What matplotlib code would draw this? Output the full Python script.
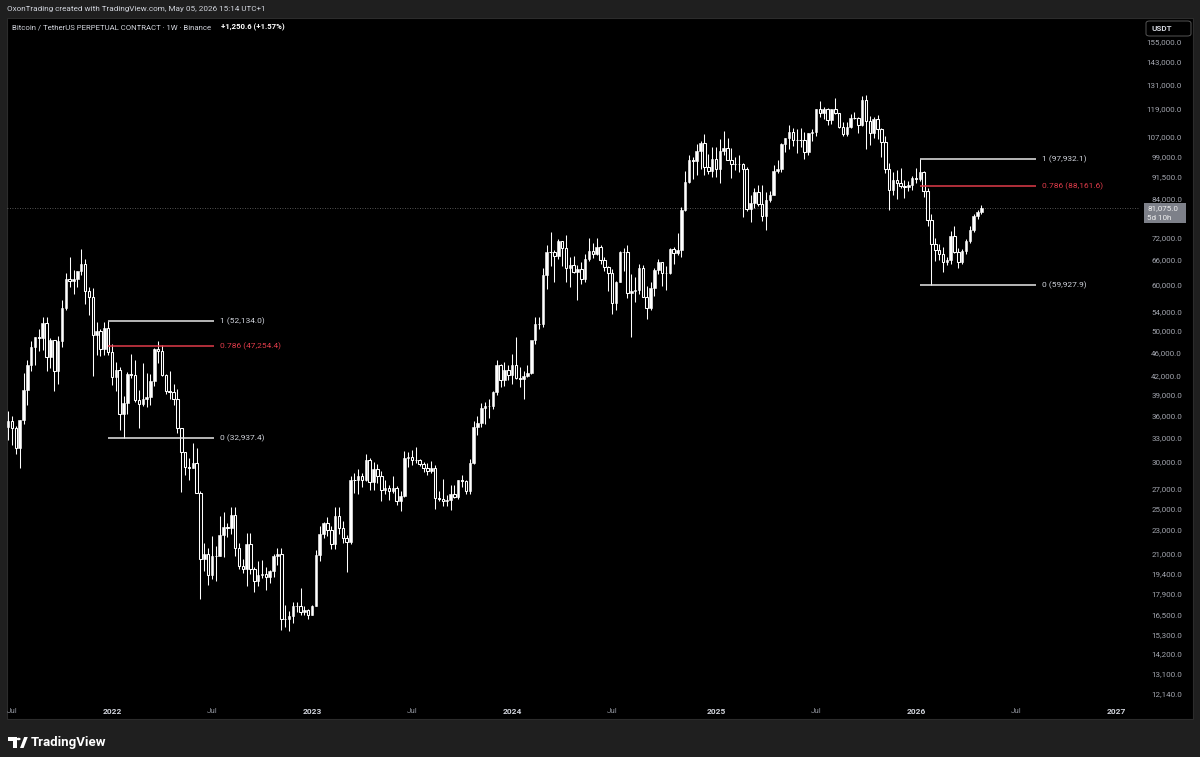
import matplotlib
matplotlib.use("Agg")
import matplotlib.pyplot as plt
import matplotlib.dates as mdates
import matplotlib.transforms as mtransforms
from matplotlib.patches import Rectangle, FancyBboxPatch, Polygon, Circle
import numpy as np
import pandas as pd

plt.rcParams['font.family'] = ['Roboto', 'DejaVu Sans']

#### weekly candles (open, high, low, close)

bars_2021 = [
    (34500, 36600, 32700, 35300), (35300, 35900, 32100, 34250), (34250, 34600, 31000, 31780),
    (31780, 35400, 29300, 35400), (35400, 42600, 34800, 39850), (39850, 44800, 37500, 43800),
    (43800, 48150, 42800, 47000), (47000, 49000, 43900, 48900), (48900, 50500, 46300, 48800),
    (48800, 52900, 46500, 51800), (51800, 52900, 42800, 45200), (45200, 48800, 43300, 48300),
    (48300, 48400, 39600, 42800), (42800, 49200, 40750, 48200), (48200, 56500, 47100, 54900),
    (54900, 62900, 54400, 61500), (61500, 67000, 59600, 60900), (60900, 63700, 57800, 61300),
    (61300, 63300, 59400, 63250), (63250, 69000, 62300, 65000), (65000, 66300, 55600, 58600),
    (58600, 59400, 53300, 57200), (57200, 59200, 42000, 49400), (49400, 51900, 45700, 50100),
    (50100, 50500, 45500, 46700), (46700, 52000, 45600, 50800), (50800, 52134, 45700, 46200),
]

bars_2022 = [
    (46200, 47600, 40600, 41850), (41850, 44400, 39600, 43100), (43100, 43500, 34000, 36250),
    (36250, 38950, 32937, 37900), (37900, 42650, 36250, 42400), (42400, 45850, 41700, 42200),
    (42200, 44800, 38000, 38350), (38350, 39800, 34350, 37700), (37700, 44200, 37400, 38400),
    (38400, 42600, 37200, 38800), (38800, 42400, 37600, 41300), (41300, 46900, 40500, 46800),
    (46800, 48200, 44200, 46400), (46400, 47400, 42100, 42200), (42200, 42400, 39200, 39700),
    (39700, 42900, 38500, 39500), (39500, 40800, 37600, 38500), (38500, 40000, 33700, 34300),
    (34300, 34300, 26700, 31300), (31300, 31300, 28600, 29450), (29450, 30500, 28000, 29400),
    (29400, 32400, 29300, 29900), (29900, 31700, 26600, 26600), (26600, 26800, 17600, 20550),
    (20550, 21900, 19600, 21000), (21000, 21500, 18600, 19300), (19300, 22500, 19000, 20850),
    (20850, 21600, 18900, 20800), (20800, 24300, 20800, 22600), (22600, 24700, 20700, 23300),
    (23300, 23700, 22400, 23200), (23200, 25200, 22700, 24400), (24400, 25200, 20800, 21500),
    (21500, 21900, 19800, 20000), (20000, 20600, 19500, 19800), (19800, 22800, 18500, 21800),
    (21800, 22800, 19400, 19800), (19800, 19950, 18100, 18900), (18900, 20400, 18500, 19300),
    (19300, 20500, 19100, 19400), (19400, 19900, 18200, 19200), (19200, 19700, 18700, 19600),
    (19600, 21000, 19200, 20800), (20800, 21500, 20100, 21000), (21000, 21500, 15600, 16300),
    (16300, 17200, 15800, 16250), (16250, 16800, 15500, 16450), (16450, 17400, 16000, 17100),
    (17100, 17400, 16700, 17150), (17150, 18400, 16500, 16750), (16750, 17100, 16500, 16850),
    (16850, 16950, 16300, 16550),
]

bars_2023 = [
    (16550, 17200, 16500, 17150), (17150, 21300, 17150, 20900), (20900, 23400, 20400, 22700),
    (22700, 23800, 22300, 23700), (23700, 24250, 22500, 23000), (23000, 23400, 21400, 21800),
    (21800, 25200, 21400, 24300), (24300, 25250, 22700, 23200), (23200, 23900, 21900, 22350),
    (22350, 22600, 19550, 22000), (22000, 28400, 21800, 28000), (28000, 28800, 26600, 27950),
    (27950, 29200, 26500, 28450), (28450, 28800, 27200, 27950), (27950, 31000, 27900, 30300),
    (30300, 30500, 26900, 27800), (27800, 30000, 26900, 29250), (29250, 29800, 27700, 28450),
    (28450, 29000, 25800, 26900), (26900, 28000, 26500, 27100), (27100, 27500, 25900, 26800),
    (26800, 28400, 26600, 27100), (27100, 27400, 25400, 25800), (25800, 26800, 24800, 26350),
    (26350, 31400, 26250, 30500), (30500, 31300, 29500, 30600), (30600, 31500, 29700, 30300),
    (30300, 31800, 29900, 30250), (30250, 30400, 29600, 29850), (29850, 30000, 28900, 29300),
    (29300, 29950, 28600, 29050), (29050, 30200, 28800, 29400), (29400, 29700, 25000, 26100),
    (26100, 26800, 25800, 26050), (26050, 28150, 25300, 25800), (25800, 26400, 25300, 25850),
    (25850, 27500, 24900, 26550), (26550, 27450, 26100, 26250), (26250, 28050, 26000, 27950),
    (27950, 28600, 27200, 27900), (27900, 28000, 26500, 26850), (26850, 30400, 26550, 29950),
    (29950, 35200, 29800, 34500), (34500, 35900, 33400, 35000), (35000, 37900, 34500, 37050),
    (37050, 38000, 34800, 37400), (37400, 38400, 35700, 37450), (37450, 39700, 36900, 39450),
    (39450, 44700, 39000, 43800), (43800, 44000, 40200, 41400), (41400, 44400, 40500, 43050),
    (43050, 43800, 41400, 42250),
]

bars_2024 = [
    (42250, 45900, 40700, 43950), (43950, 49000, 41500, 41750), (41750, 43600, 40300, 41600),
    (41600, 42800, 38500, 42050), (42050, 43900, 41900, 42600), (42600, 48200, 42300, 48300),
    (48300, 52900, 47700, 51600), (51600, 52900, 50500, 51450), (51450, 64000, 50900, 62400),
    (62400, 70100, 59000, 68300), (68300, 73800, 64500, 68200), (68200, 68900, 60700, 67200),
    (67200, 71800, 66500, 71300), (71300, 71300, 64500, 69400), (69400, 72800, 60700, 64000),
    (64000, 66900, 59600, 64950), (64950, 67200, 62800, 63100), (63100, 64800, 56500, 63900),
    (63900, 65500, 60200, 61500), (61500, 67700, 60700, 66300), (66300, 72000, 66000, 68500),
    (68500, 70600, 66600, 67800), (67800, 72000, 67500, 69600), (69600, 70200, 65000, 66200),
    (66200, 67000, 63400, 64300), (64300, 64500, 58500, 62800), (62800, 63800, 53500, 55900),
    (55900, 61000, 54300, 60800), (60800, 68400, 60600, 68200), (68200, 69400, 63400, 68300),
    (68300, 70000, 57000, 58100), (58100, 62700, 49000, 58700), (58700, 62000, 56100, 58900),
    (58900, 65000, 57800, 64200), (64200, 64900, 57200, 57300), (57300, 59800, 52500, 54800),
    (54800, 60600, 54500, 59200), (59200, 64100, 57500, 63600), (63600, 66500, 62600, 65600),
    (65600, 65600, 59800, 62800), (62800, 64500, 58900, 62900), (62900, 69400, 62600, 69000),
    (69000, 69500, 65000, 68000), (68000, 73600, 67500, 68700), (68700, 81500, 66800, 80400),
    (80400, 93500, 80200, 89800), (89800, 99600, 89300, 97800), (97800, 98700, 90800, 97200),
    (97200, 104000, 92000, 101100), (101100, 105200, 94200, 104400), (104400, 108300, 92200, 95200),
    (95200, 99900, 92500, 93700), (93700, 102700, 91300, 98300),
]

bars_2025 = [
    (98300, 102700, 91300, 94500), (94500, 106000, 89200, 101300), (101300, 109600, 99500, 102600),
    (102600, 106400, 97800, 97700), (97700, 102500, 91200, 96400), (96400, 98800, 94000, 96100),
    (96100, 99500, 93400, 96250), (96250, 96500, 78200, 94300), (94300, 95000, 80000, 80700),
    (80700, 85300, 76600, 82600), (82600, 87500, 81100, 86100), (86100, 88800, 81600, 82400),
    (82400, 88500, 77100, 78400), (78400, 86100, 74400, 83700), (83700, 86500, 83000, 85200),
    (85200, 95800, 85100, 93800), (93800, 97900, 92800, 94300), (94300, 104300, 93400, 104200),
    (104200, 106700, 100700, 106400), (106400, 112000, 102000, 109000), (109000, 110700, 103100, 105700),
    (105700, 110400, 100400, 105600), (105600, 110600, 102700, 105500), (105500, 108900, 98200, 100900),
    (100900, 108500, 99600, 108400), (108400, 110500, 105100, 109200), (109200, 119500, 107500, 119100),
    (119100, 123200, 115700, 117300), (117300, 120200, 114700, 119400), (119400, 119800, 112000, 114200),
    (114200, 119300, 112600, 119300), (119300, 124500, 116800, 117400), (117400, 117600, 110600, 111000),
    (111000, 113300, 107300, 108200), (108200, 113400, 107300, 111100), (111100, 116800, 110600, 115300),
    (115300, 117900, 114600, 115200), (115200, 115400, 108600, 112200), (112200, 125700, 111600, 123500),
    (123500, 126200, 102000, 114000), (114000, 116000, 103500, 108700), (108700, 115500, 106600, 114500),
    (114500, 116400, 106300, 110500), (110500, 110800, 98900, 104700), (104700, 107500, 93000, 94500),
    (94500, 96600, 80500, 86800), (86800, 93100, 85300, 90400), (90400, 94100, 83800, 89300),
    (89300, 94600, 87600, 88200), (88200, 90400, 84400, 87900), (87900, 90000, 86500, 88600),
    (88600, 91900, 86800, 91000),
]

bars_2026 = [
    (91000, 94800, 89300, 90600), (90600, 97932, 90000, 93100), (93100, 93600, 84600, 86500),
    (86500, 87500, 75500, 77200), (77200, 79000, 59928, 70500), (70500, 72200, 65800, 68900),
    (68900, 70400, 66200, 67700), (67700, 69500, 63200, 65700), (65700, 67000, 64900, 66100),
    (66100, 74000, 65200, 72500), (72500, 75600, 68000, 68300), (68300, 69200, 64200, 65600),
    (65600, 69000, 65000, 68400), (68400, 71800, 67800, 71200), (71200, 75500, 70600, 74500),
    (74500, 79000, 73800, 78600), (78600, 80300, 77500, 79824), (79824, 81900, 79300, 81075),
]

first_week = "2021-06-28"
last_price = 81075.0

price_ticks = [155000, 143000, 131000, 119000, 107000, 99000, 91500, 84000, 72000, 66000,
               60000, 54000, 50000, 46000, 42000, 39000, 36000, 33000, 30000, 27000, 25000,
               23000, 21000, 19400, 17900, 16500, 15300, 14200, 13100, 12140]

time_ticks = ["2021-07-05", "2022-01-03", "2022-07-04", "2023-01-02", "2023-07-03", "2024-01-01",
              "2024-07-01", "2025-01-06", "2025-07-07", "2026-01-05", "2026-07-06", "2027-01-04"]
time_labels = ["Jul", "2022", "Jul", "2023", "Jul", "2024", "Jul", "2025", "Jul", "2026", "Jul", "2027"]

fib_left_levels = [("1", 52134.0), ("0.786", 47254.4), ("0", 32937.4)]
fib_left_span = ("2021-12-27", "2022-07-08")
fib_right_levels = [("1", 97932.1), ("0.786", 88161.6), ("0", 59927.9)]
fib_right_span = ("2026-01-12", "2026-08-11")

#### helpers: pixel positions -> figure fraction
W, H = 1200, 757
def fx(px):
    return px / W
def fy(py):
    return 1 - py / H

BG = '#1f1f1f'
WHITE = '#ffffff'
RED = '#e03c4a'
TXT = '#d1d4dc'
GREY = '#a3a6af'

fig = plt.figure(figsize=(12, 7.57), dpi=100, facecolor=BG)

# black chart pane (behind the axes)
fig.patches.append(Rectangle((fx(7), fy(719)), fx(1193) - fx(7), fy(18) - fy(719),
                             transform=fig.transFigure, facecolor='black',
                             edgecolor='#2c2c2c', lw=0.8, zorder=-5))

ax = fig.add_axes([fx(7), fy(703), fx(1140) - fx(7), fy(18) - fy(703)])
ax.set_zorder(1)
ax.set_facecolor('none')
for s in ax.spines.values():
    s.set_visible(False)
ax.set_yscale('log')
ax.set_ylim(11720, 170200)
ax.minorticks_off()
ax.set_xticks([])
ax.set_yticks([])

# x scale : 3.847 px per week, first 2022 bar at x=112
anchor = mdates.date2num(pd.Timestamp("2022-01-03"))
ppd = 3.847 / 7
ax.set_xlim(anchor - (112 - 7) / ppd, anchor + (1140 - 112) / ppd)

bars = np.array(bars_2021 + bars_2022 + bars_2023 + bars_2024 + bars_2025 + bars_2026, dtype=float)
dates = pd.date_range(first_week, periods=len(bars), freq='7D')
xs = mdates.date2num(dates)
o, h, l, c = bars[:, 0], bars[:, 1], bars[:, 2], bars[:, 3]
up = c >= o
dn = ~up
bw = 4.6  # days

ax.vlines(xs, l, h, color=WHITE, lw=0.75, zorder=2)
ax.bar(xs[up], c[up] - o[up], bottom=o[up], width=bw, color=WHITE, edgecolor=WHITE, lw=0.4, zorder=3)
ax.bar(xs[dn], o[dn] - c[dn], bottom=c[dn], width=bw, facecolor='black', edgecolor=WHITE, lw=0.75, zorder=3)

# current price dotted line
ax.axhline(last_price, color='#707070', lw=0.6, ls=(0, (1, 2)), zorder=1)

# fib drawings
def draw_fib(levels, span):
    x0 = mdates.date2num(pd.Timestamp(span[0]))
    x1 = mdates.date2num(pd.Timestamp(span[1]))
    for name, val in levels:
        col = RED if name == "0.786" else '#e8e8e8'
        tcol = RED if name == "0.786" else TXT
        ax.plot([x0, x1], [val, val], color=col, lw=1.1, zorder=4, solid_capstyle='butt')
        ax.annotate(f"{name} ({val:,.1f})", xy=(x1, val), xytext=(4.5, 0), textcoords='offset points',
                    color=tcol, fontsize=6, va='center', ha='left', zorder=5)

draw_fib(fib_left_levels, fib_left_span)
draw_fib(fib_right_levels, fib_right_span)

# price scale labels
ptrans = mtransforms.blended_transform_factory(fig.transFigure, ax.transData)
for p in price_ticks:
    ax.text(fx(1182), p, f"{p:,.1f}", transform=ptrans, ha='right', va='center',
            color=GREY, fontsize=5.8, clip_on=False)

# time scale labels
ttrans = mtransforms.blended_transform_factory(ax.transData, fig.transFigure)
for d, lab in zip(time_ticks, time_labels):
    xd = mdates.date2num(pd.Timestamp(d))
    if lab == "Jul":
        ax.text(xd, fy(711), lab, transform=ttrans, ha='center', va='center',
                color='#8f929b', fontsize=5.8, clip_on=False)
    else:
        ax.text(xd, fy(711), lab, transform=ttrans, ha='center', va='center',
                color=TXT, fontsize=6, fontweight='bold', clip_on=False)

# last price tag
fig.patches.append(Rectangle((fx(1144), fy(223)), fx(1186) - fx(1144), fy(203) - fy(223),
                             transform=fig.transFigure, facecolor='#7d8089', edgecolor='none', zorder=5))
fig.text(fx(1147), fy(208.5), f"{last_price:,.1f}", color='#f0f0f0', fontsize=5.8, va='center', ha='left', zorder=6)
fig.text(fx(1147), fy(217.5), "5d 10h", color='#f0f0f0', fontsize=5.8, va='center', ha='left', zorder=6)

# currency box
fig.patches.append(FancyBboxPatch((fx(1146), fy(36)), fx(1191) - fx(1146), fy(21) - fy(36),
                                  boxstyle='round,pad=0,rounding_size=0.003',
                                  transform=fig.transFigure, facecolor='none',
                                  edgecolor='#555555', lw=0.7, zorder=5))
fig.text(fx(1151), fy(28.5), "USDT", color=TXT, fontsize=5.8, va='center', ha='left', fontweight='bold')

# header texts
fig.text(fx(7), fy(9.5), "OxonTrading created with TradingView.com, May 05, 2026 15:14 UTC+1",
         color=TXT, fontsize=5.9, va='center', ha='left')
fig.text(fx(12), fy(27), "Bitcoin / TetherUS PERPETUAL CONTRACT · 1W · Binance",
         color=TXT, fontsize=5.6, va='center', ha='left')
fig.text(fx(221), fy(27), "+1,250.6 (+1.57%)", color=WHITE, fontsize=5.6,
         va='center', ha='left', fontweight='bold')

# TradingView logo
logo = [
    Polygon([(fx(8), fy(737)), (fx(16.5), fy(737)), (fx(16.5), fy(748)), (fx(12.8), fy(748)),
             (fx(12.8), fy(741)), (fx(8), fy(741))], closed=True),
    Polygon([(fx(20), fy(748)), (fx(23.6), fy(748)), (fx(27.8), fy(737)), (fx(24.2), fy(737))], closed=True),
]
for pg in logo:
    pg.set_transform(fig.transFigure)
    pg.set_facecolor(WHITE)
    pg.set_edgecolor('none')
    fig.patches.append(pg)
fig.patches.append(Circle((fx(18.6), fy(739)), 0.0017, transform=fig.transFigure, facecolor=WHITE, edgecolor='none'))
fig.text(fx(31), fy(742.5), "TradingView", color=WHITE, fontsize=9.5, fontweight='bold',
         va='center', ha='left')

fig.savefig("out.png", dpi=100, facecolor=BG)
